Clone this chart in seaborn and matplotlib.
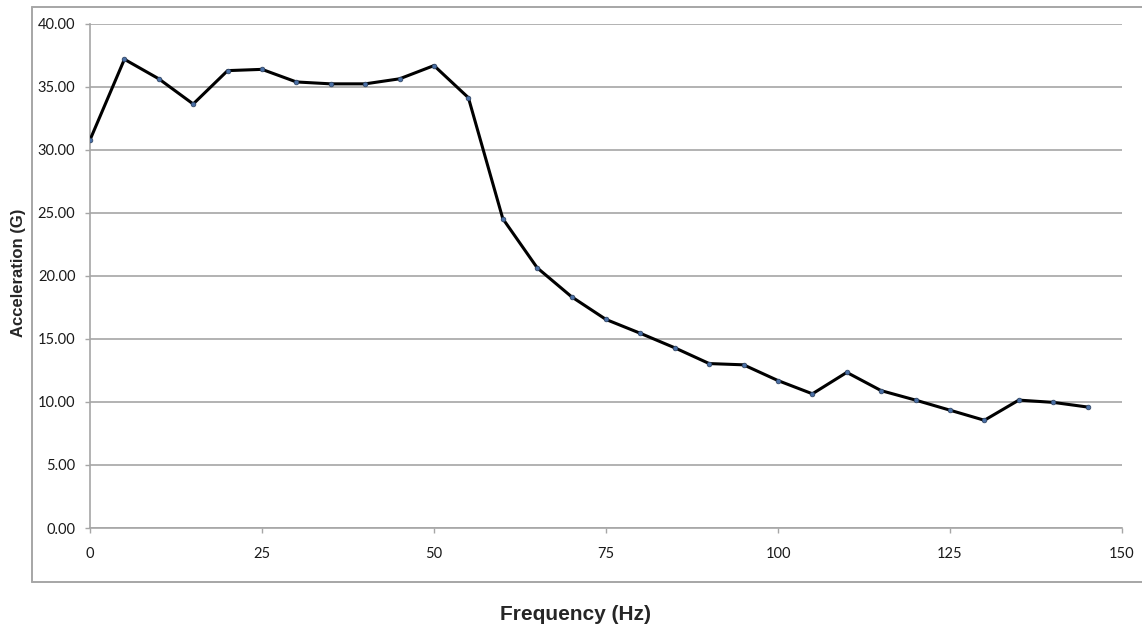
import matplotlib
matplotlib.use('Agg')
import matplotlib.pyplot as plt
import seaborn as sns
import pandas as pd
from matplotlib.lines import Line2D
from matplotlib.ticker import FormatStrFormatter, MultipleLocator

# Data
frequency = [0, 5, 10, 15, 20, 25, 30, 35, 40, 45, 50, 55, 60, 65, 70,
             75, 80, 85, 90, 95, 100, 105, 110, 115, 120, 125, 130, 135, 140, 145]
acceleration = [30.8, 37.2, 35.65, 33.65, 36.3, 36.4, 35.4, 35.25, 35.25, 35.65,
                36.7, 34.15, 24.55, 20.65, 18.35, 16.55, 15.45, 14.3, 13.05, 12.95,
                11.7, 10.65, 12.35, 10.9, 10.15, 9.35, 8.55, 10.15, 9.97, 9.6]

df = pd.DataFrame({'Frequency (Hz)': frequency, 'Acceleration (G)': acceleration})

sns.set_style('white')
plt.rcParams['font.family'] = ['Lato', 'DejaVu Sans']

fig = plt.figure(figsize=(11.42, 6.33), dpi=100)
ax = fig.add_axes([90 / 1142, 1 - 528 / 633, (1122 - 90) / 1142, (528 - 24) / 633])

grid_col = '#a6a6a6'
sns.lineplot(data=df, x='Frequency (Hz)', y='Acceleration (G)', ax=ax,
             color='black', linewidth=2.2, marker='o', markersize=3.4,
             markerfacecolor='#4a6fa5', markeredgecolor='#2b3f5c', markeredgewidth=0.5,
             zorder=3)

ax.set_xlim(0, 150)
ax.set_ylim(0, 40)
ax.xaxis.set_major_locator(MultipleLocator(25))
ax.yaxis.set_major_locator(MultipleLocator(5))
ax.yaxis.set_major_formatter(FormatStrFormatter('%.2f'))
ax.yaxis.grid(True, color=grid_col, linewidth=1.2)
ax.xaxis.grid(False)

for side in ['top', 'right']:
    ax.spines[side].set_visible(False)
for side in ['left', 'bottom']:
    ax.spines[side].set_color(grid_col)
    ax.spines[side].set_linewidth(1.2)

ax.tick_params(axis='y', which='major', left=True, length=3.5, width=1.0, color=grid_col,
               pad=7, labelsize=10.5, labelcolor='#1a1a1a')
ax.tick_params(axis='x', which='major', bottom=True, length=3.5, width=1.0, color=grid_col,
               pad=10, labelsize=10.5, labelcolor='#1a1a1a')

ax.set_xlabel('')
ax.set_ylabel('')

fig.text(0.504, 1 - 615 / 633, 'Frequency (Hz)', ha='center', va='center',
         fontsize=15, fontweight='bold', family=['Liberation Sans', 'DejaVu Sans'])
fig.text(19 / 1142, 1 - 273 / 633, 'Acceleration (G)', ha='center', va='center',
         rotation=90, fontsize=12, fontweight='bold', family=['Liberation Sans', 'DejaVu Sans'])

# outer chart border (left, top, bottom)
bx0, by0, by1 = 32 / 1142, 1 - 582 / 633, 1 - 7 / 633
border_kw = dict(color=grid_col, linewidth=1.4, transform=fig.transFigure)
fig.add_artist(Line2D([bx0, bx0], [by0, by1], **border_kw))
fig.add_artist(Line2D([bx0, 1.0], [by1, by1], **border_kw))
fig.add_artist(Line2D([bx0, 1.0], [by0, by0], **border_kw))

fig.savefig('out.png', dpi=100)
plt.close(fig)
